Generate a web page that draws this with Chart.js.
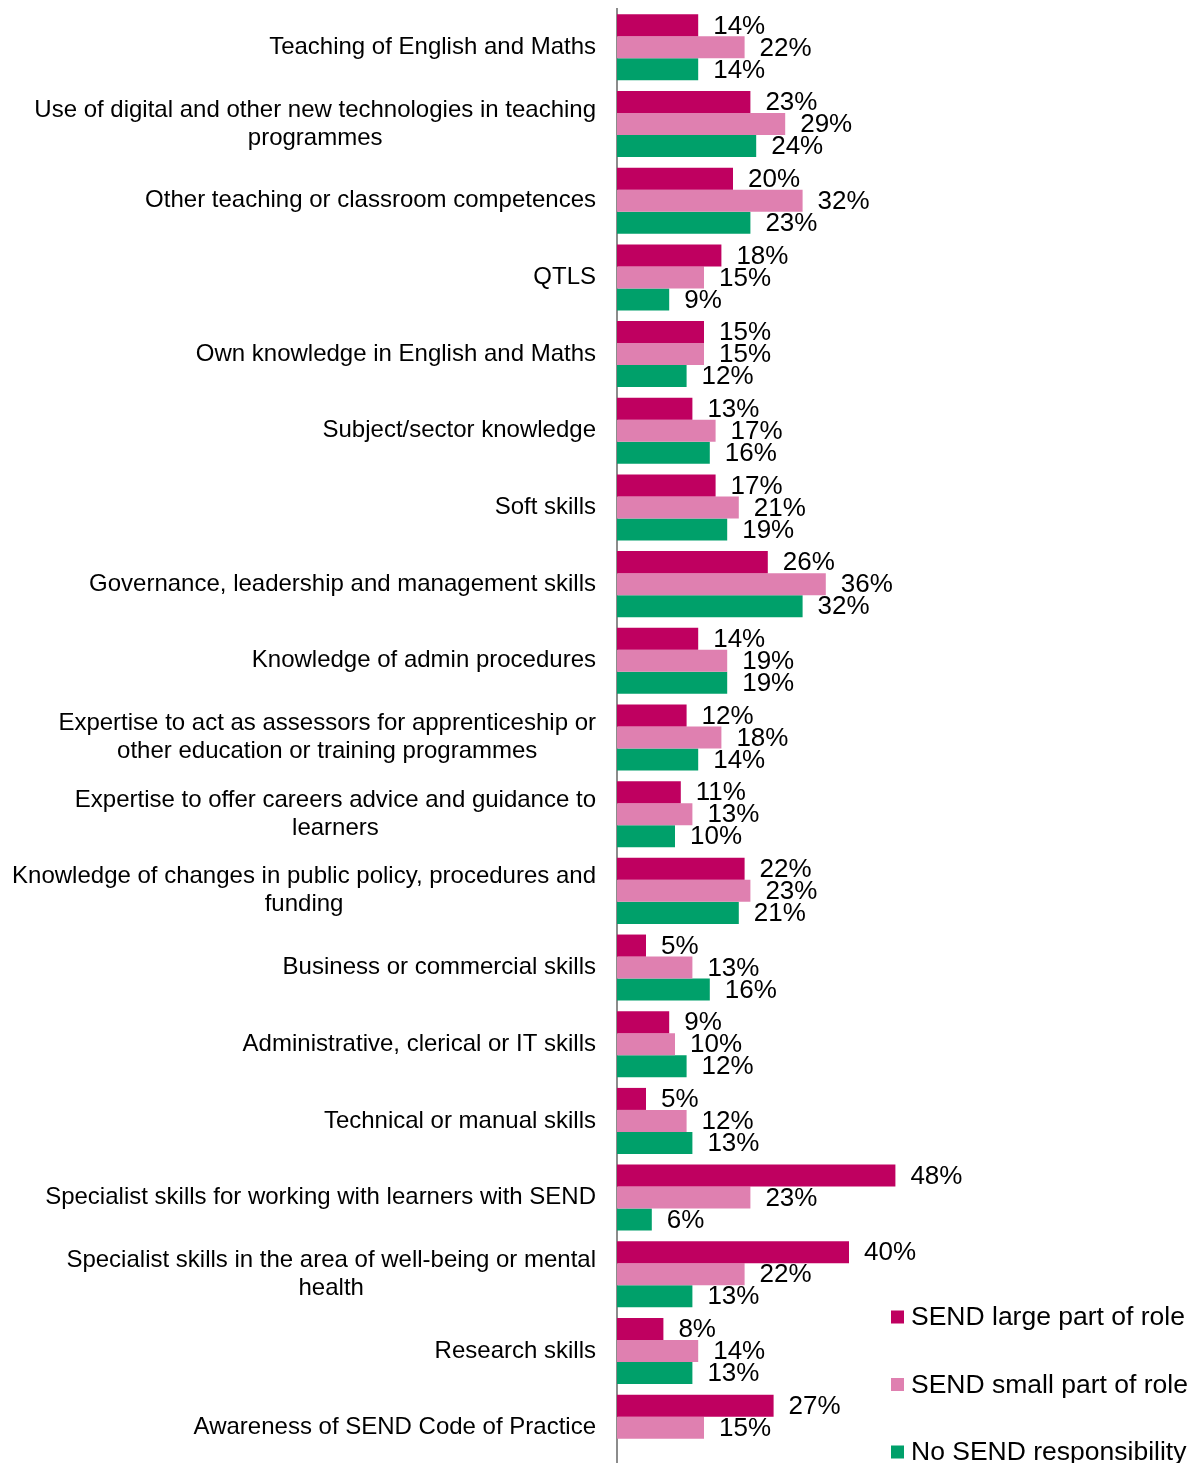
<!DOCTYPE html>
<html>
<head>
<meta charset="utf-8">
<script src="https://cdn.jsdelivr.net/npm/chart.js@4/dist/chart.umd.min.js"></script>
<style>
  html, body { margin: 0; padding: 0; background: #fff; overflow: hidden; }
  #wrap { position: relative; width: 1193px; height: 1470px; }
</style>
</head>
<body>
<div id="wrap"><canvas id="skillsChart"></canvas></div>
<script>
const categories = [
  ['Teaching of English and Maths'],
  ['Use of digital and other new technologies in teaching', 'programmes'],
  ['Other teaching or classroom competences'],
  ['QTLS'],
  ['Own knowledge in English and Maths'],
  ['Subject/sector knowledge'],
  ['Soft skills'],
  ['Governance, leadership and management skills'],
  ['Knowledge of admin procedures'],
  ['Expertise to act as assessors for apprenticeship or', 'other education or training programmes'],
  ['Expertise to offer careers advice and guidance to', 'learners'],
  ['Knowledge of changes in public policy, procedures and', 'funding'],
  ['Business or commercial skills'],
  ['Administrative, clerical or IT skills'],
  ['Technical or manual skills'],
  ['Specialist skills for working with learners with SEND'],
  ['Specialist skills in the area of well-being or mental', 'health'],
  ['Research skills'],
  ['Awareness of SEND Code of Practice']
];

const sendLarge = [14, 23, 20, 18, 15, 13, 17, 26, 14, 12, 11, 22, 5, 9, 5, 48, 40, 8, 27];
const sendSmall = [22, 29, 32, 15, 15, 17, 21, 36, 19, 18, 13, 23, 13, 10, 12, 23, 22, 14, 15];
const noSend = [14, 24, 23, 9, 12, 16, 19, 32, 19, 14, 10, 21, 16, 12, 13, 6, 13, 13, null];

const seriesNames = ['SEND large part of role', 'SEND small part of role', 'No SEND responsibility'];
const seriesColours = ['#BF0060', '#DF80B0', '#00A06A'];

const FONT = '"Liberation Sans", Arial, sans-serif';

// category names, right-aligned block with each line centred inside it
const categoryLabels = {
  id: 'categoryLabels',
  afterDraw(chart) {
    const ctx = chart.ctx;
    const yScale = chart.scales.y;
    const right = chart.chartArea.left - 21;
    ctx.save();
    ctx.font = '24px ' + FONT;
    ctx.fillStyle = '#000';
    ctx.textAlign = 'center';
    ctx.textBaseline = 'middle';
    categories.forEach((lines, i) => {
      const w = Math.max(...lines.map(l => ctx.measureText(l).width));
      const cx = right - w / 2;
      const cy = yScale.getPixelForValue(i);
      lines.forEach((line, j) => {
        ctx.fillText(line, cx, cy + (j - (lines.length - 1) / 2) * 28);
      });
    });
    ctx.restore();
  }
};

// percentage next to the end of each bar
const valueLabels = {
  id: 'valueLabels',
  afterDatasetsDraw(chart) {
    const ctx = chart.ctx;
    ctx.save();
    ctx.font = '26px ' + FONT;
    ctx.fillStyle = '#000';
    ctx.textAlign = 'left';
    ctx.textBaseline = 'middle';
    chart.data.datasets.forEach((ds, di) => {
      chart.getDatasetMeta(di).data.forEach((bar, i) => {
        const v = ds.data[i];
        if (v === null || v === undefined) return;
        ctx.fillText(v + '%', bar.x + 15, bar.y + 1);
      });
    });
    ctx.restore();
  }
};

// legend stacked in the lower right corner
const cornerLegend = {
  id: 'cornerLegend',
  afterDraw(chart) {
    const ctx = chart.ctx;
    ctx.save();
    ctx.font = '26.5px ' + FONT;
    ctx.textAlign = 'left';
    ctx.textBaseline = 'middle';
    chart.data.datasets.forEach((ds, i) => {
      const cy = 1317 + i * 67.5;
      ctx.fillStyle = ds.backgroundColor;
      ctx.fillRect(891, cy - 6.5, 13, 13);
      ctx.fillStyle = '#000';
      ctx.fillText(ds.label, 911, cy + 1);
    });
    ctx.restore();
  }
};

new Chart(document.getElementById('skillsChart'), {
  type: 'bar',
  data: {
    labels: categories,
    datasets: [sendLarge, sendSmall, noSend].map((values, i) => ({
      label: seriesNames[i],
      data: values,
      backgroundColor: seriesColours[i],
      borderWidth: 0,
      categoryPercentage: 0.861,
      barPercentage: 1
    }))
  },
  options: {
    indexAxis: 'y',
    responsive: true,
    maintainAspectRatio: false,
    animation: false,
    layout: {
      padding: { top: 9, bottom: 4, left: 0, right: 286 }
    },
    plugins: {
      legend: { display: false },
      tooltip: { enabled: false }
    },
    scales: {
      x: {
        display: false,
        min: 0,
        max: 50
      },
      y: {
        afterFit(scale) { scale.width = 617; },
        ticks: { display: false },
        grid: { display: false, drawTicks: false },
        border: { display: true, color: '#8c8c8c', width: 2 }
      }
    }
  },
  plugins: [categoryLabels, valueLabels, cornerLegend]
});
</script>
</body>
</html>
